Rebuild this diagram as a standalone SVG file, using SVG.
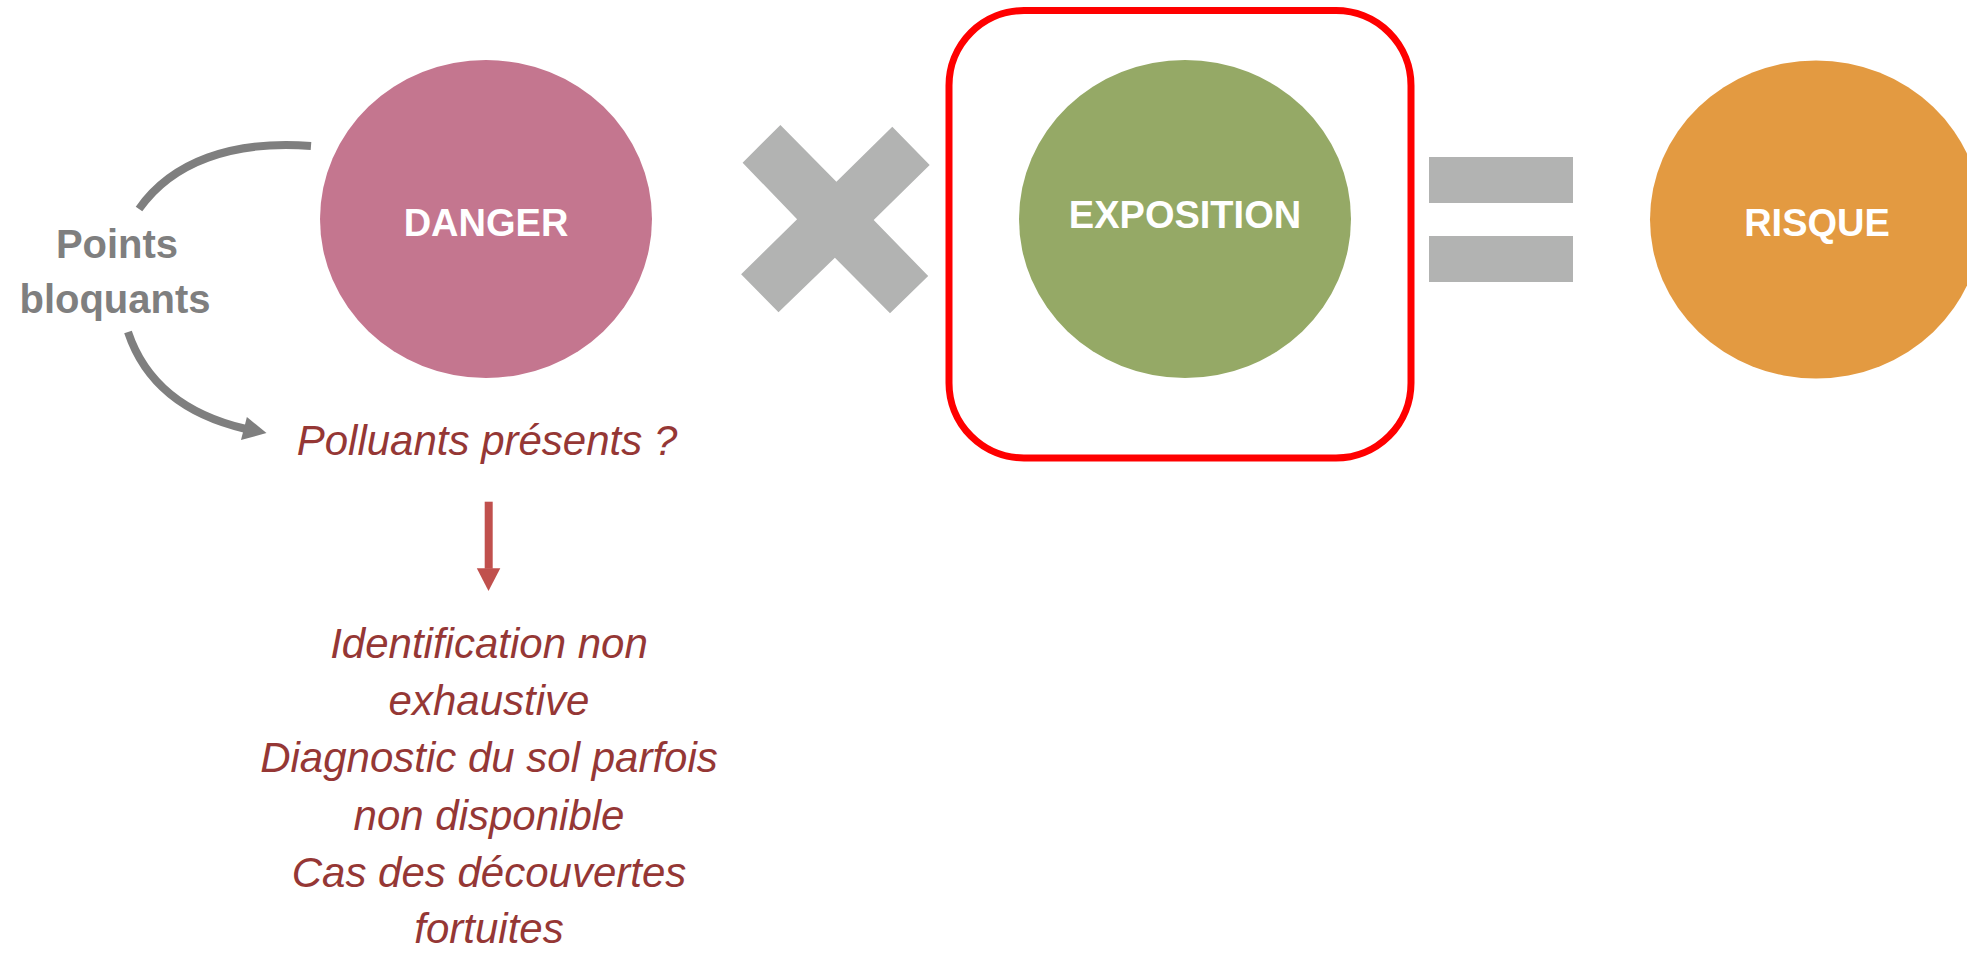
<svg xmlns="http://www.w3.org/2000/svg" width="1967" height="953" viewBox="0 0 1967 953">
<style>
.lbl{font-family:"Liberation Sans",Arial,sans-serif;font-weight:bold;font-size:38px;fill:#FFFFFF;text-anchor:middle}
.gray{font-family:"Liberation Sans",Arial,sans-serif;font-weight:bold;font-size:40px;fill:#7F7F7F;text-anchor:middle}
.it{font-family:"Liberation Sans",Arial,sans-serif;font-style:italic;font-size:42px;fill:#953735;text-anchor:middle}
.op{fill:#B2B3B2}
</style>
<defs>
<marker id="grayHead" markerWidth="6" markerHeight="6" refX="3" refY="3" orient="auto" markerUnits="strokeWidth"><path d="M0,0 L6,3 L0,6 Z" fill="#7F7F7F"/></marker>
</defs>
<rect width="1967" height="953" fill="#FFFFFF"/>
<g id="danger">
<ellipse cx="486" cy="219" rx="166" ry="159" fill="#C4768F"/>
<text class="lbl" x="486" y="236">DANGER</text>
</g>
<g id="multiply">
<polygon class="op" points="742.6,162.7 780.4,125 836.4,181.7 892.3,126.7 929.7,165 873.7,220 928.2,276 890,313.3 834.9,257.7 778.5,312.3 741.1,274.3 797.1,219.3"/>
</g>
<g id="exposition-frame">
<rect x="949" y="10.5" width="462" height="447.5" rx="75" ry="75" fill="none" stroke="#FF0000" stroke-width="7"/>
</g>
<g id="exposition">
<ellipse cx="1185" cy="219" rx="166" ry="159" fill="#95A966"/>
<text class="lbl" x="1185" y="228">EXPOSITION</text>
</g>
<g id="equals">
<rect class="op" x="1429" y="157" width="144" height="46"/>
<rect class="op" x="1429" y="236" width="144" height="46"/>
</g>
<g id="risque">
<ellipse cx="1816" cy="219.5" rx="166" ry="159" fill="#E39A41"/>
<text class="lbl" x="1817" y="236">RISQUE</text>
</g>
<g id="points-bloquants">
<text class="gray" x="117" y="258">Points</text>
<text class="gray" x="115" y="313">bloquants</text>
</g>
<g id="polluants">
<text class="it" x="487" y="455">Polluants présents ?</text>
</g>
<g id="consequences">
<text class="it" x="489" y="658">Identification non</text>
<text class="it" x="489" y="715">exhaustive</text>
<text class="it" x="489" y="772">Diagnostic du sol parfois</text>
<text class="it" x="489" y="830">non disponible</text>
<text class="it" x="489" y="887">Cas des découvertes</text>
<text class="it" x="489" y="943">fortuites</text>
</g>
<g id="connectors">
<path d="M139,209 C172,162 232,140 311,146" fill="none" stroke="#7F7F7F" stroke-width="8"/>
<path d="M128,332 C146,386 190,416 246,429" fill="none" stroke="#7F7F7F" stroke-width="8"/>
<polygon points="246.9,417 241,440 266.5,433" fill="#7F7F7F"/>
<rect x="484.7" y="501.7" width="8" height="67" fill="#C0504D"/>
<polygon points="476.8,568.3 500.3,568.3 488.5,591" fill="#C0504D"/>
</g>
</svg>
